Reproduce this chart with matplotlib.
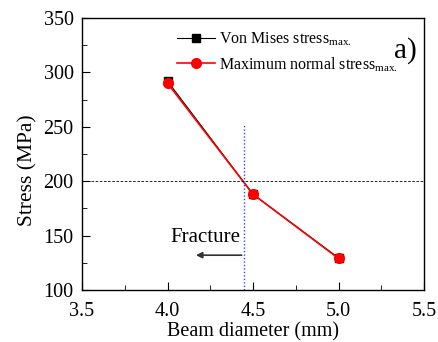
import matplotlib
matplotlib.use("Agg")
import matplotlib.pyplot as plt
from matplotlib.ticker import MultipleLocator

plt.rcParams['font.family'] = ['Liberation Serif', 'DejaVu Serif']
plt.rcParams['mathtext.fontset'] = 'custom'
plt.rcParams['mathtext.rm'] = 'Liberation Serif'

diameter = [4.0, 4.5, 5.0]
von_mises = [292, 188, 129.5]
max_normal = [290, 188, 129]
fracture_x = 4.45
threshold = 200

fig = plt.figure(figsize=(4.38, 3.42), dpi=100)
ax = fig.add_axes([82/438, 1-290/342, (424-82)/438, (290-18)/342])

ax.plot(diameter, von_mises, '-s', color='black', ms=6, lw=0.8,
        label=r'Von Mises stress$_{\mathrm{max.}}$')
ax.plot(diameter, max_normal, '-o', color='red', ms=7, lw=1.2,
        label=r'Maximum normal stress$_{\mathrm{max.}}$')

ax.plot([3.55, 5.5], [threshold, threshold], color='black', lw=0.6, dashes=(3, 2))
ax.plot([fracture_x, fracture_x], [100, 252], color='#3344ee', lw=1.0, dashes=(1, 1.5))

ax.annotate('', xy=(4.15, 132), xytext=(fracture_x, 132),
            arrowprops=dict(arrowstyle='-|>', color='#333333', lw=1.2, mutation_scale=9))
ax.text(4.22, 148, 'Fracture', fontsize=15, ha='center', va='center')
ax.text(5.46, 320, 'a)', fontsize=21, ha='right', va='center')

ax.set_xlim(3.5, 5.5)
ax.set_ylim(100, 350)
ax.xaxis.set_major_locator(MultipleLocator(0.5))
ax.xaxis.set_minor_locator(MultipleLocator(0.25))
ax.yaxis.set_major_locator(MultipleLocator(50))
ax.yaxis.set_minor_locator(MultipleLocator(25))
ax.tick_params(which='both', direction='in', top=False, right=False, labelsize=14.5)
ax.tick_params(axis='x', which='major', pad=9)
ax.tick_params(axis='y', which='major', pad=6)
ax.tick_params(which='major', length=6)
ax.tick_params(which='minor', length=3.5)
for s in ax.spines.values():
    s.set_linewidth(1.0)
ax.set_xlabel('Beam diameter (mm)', fontsize=14.5)
ax.xaxis.set_label_coords(0.5, -0.12)
ax.set_ylabel('Stress (MPa)', fontsize=15.5)
ax.yaxis.set_label_coords(-0.13, 0.44)

ax.legend(loc='upper left', bbox_to_anchor=(0.24, 1.0), frameon=False, fontsize=11.5,
          handlelength=2.4, handletextpad=0.25, borderpad=0.3, labelspacing=0.4)

fig.savefig('out.png', dpi=100)
